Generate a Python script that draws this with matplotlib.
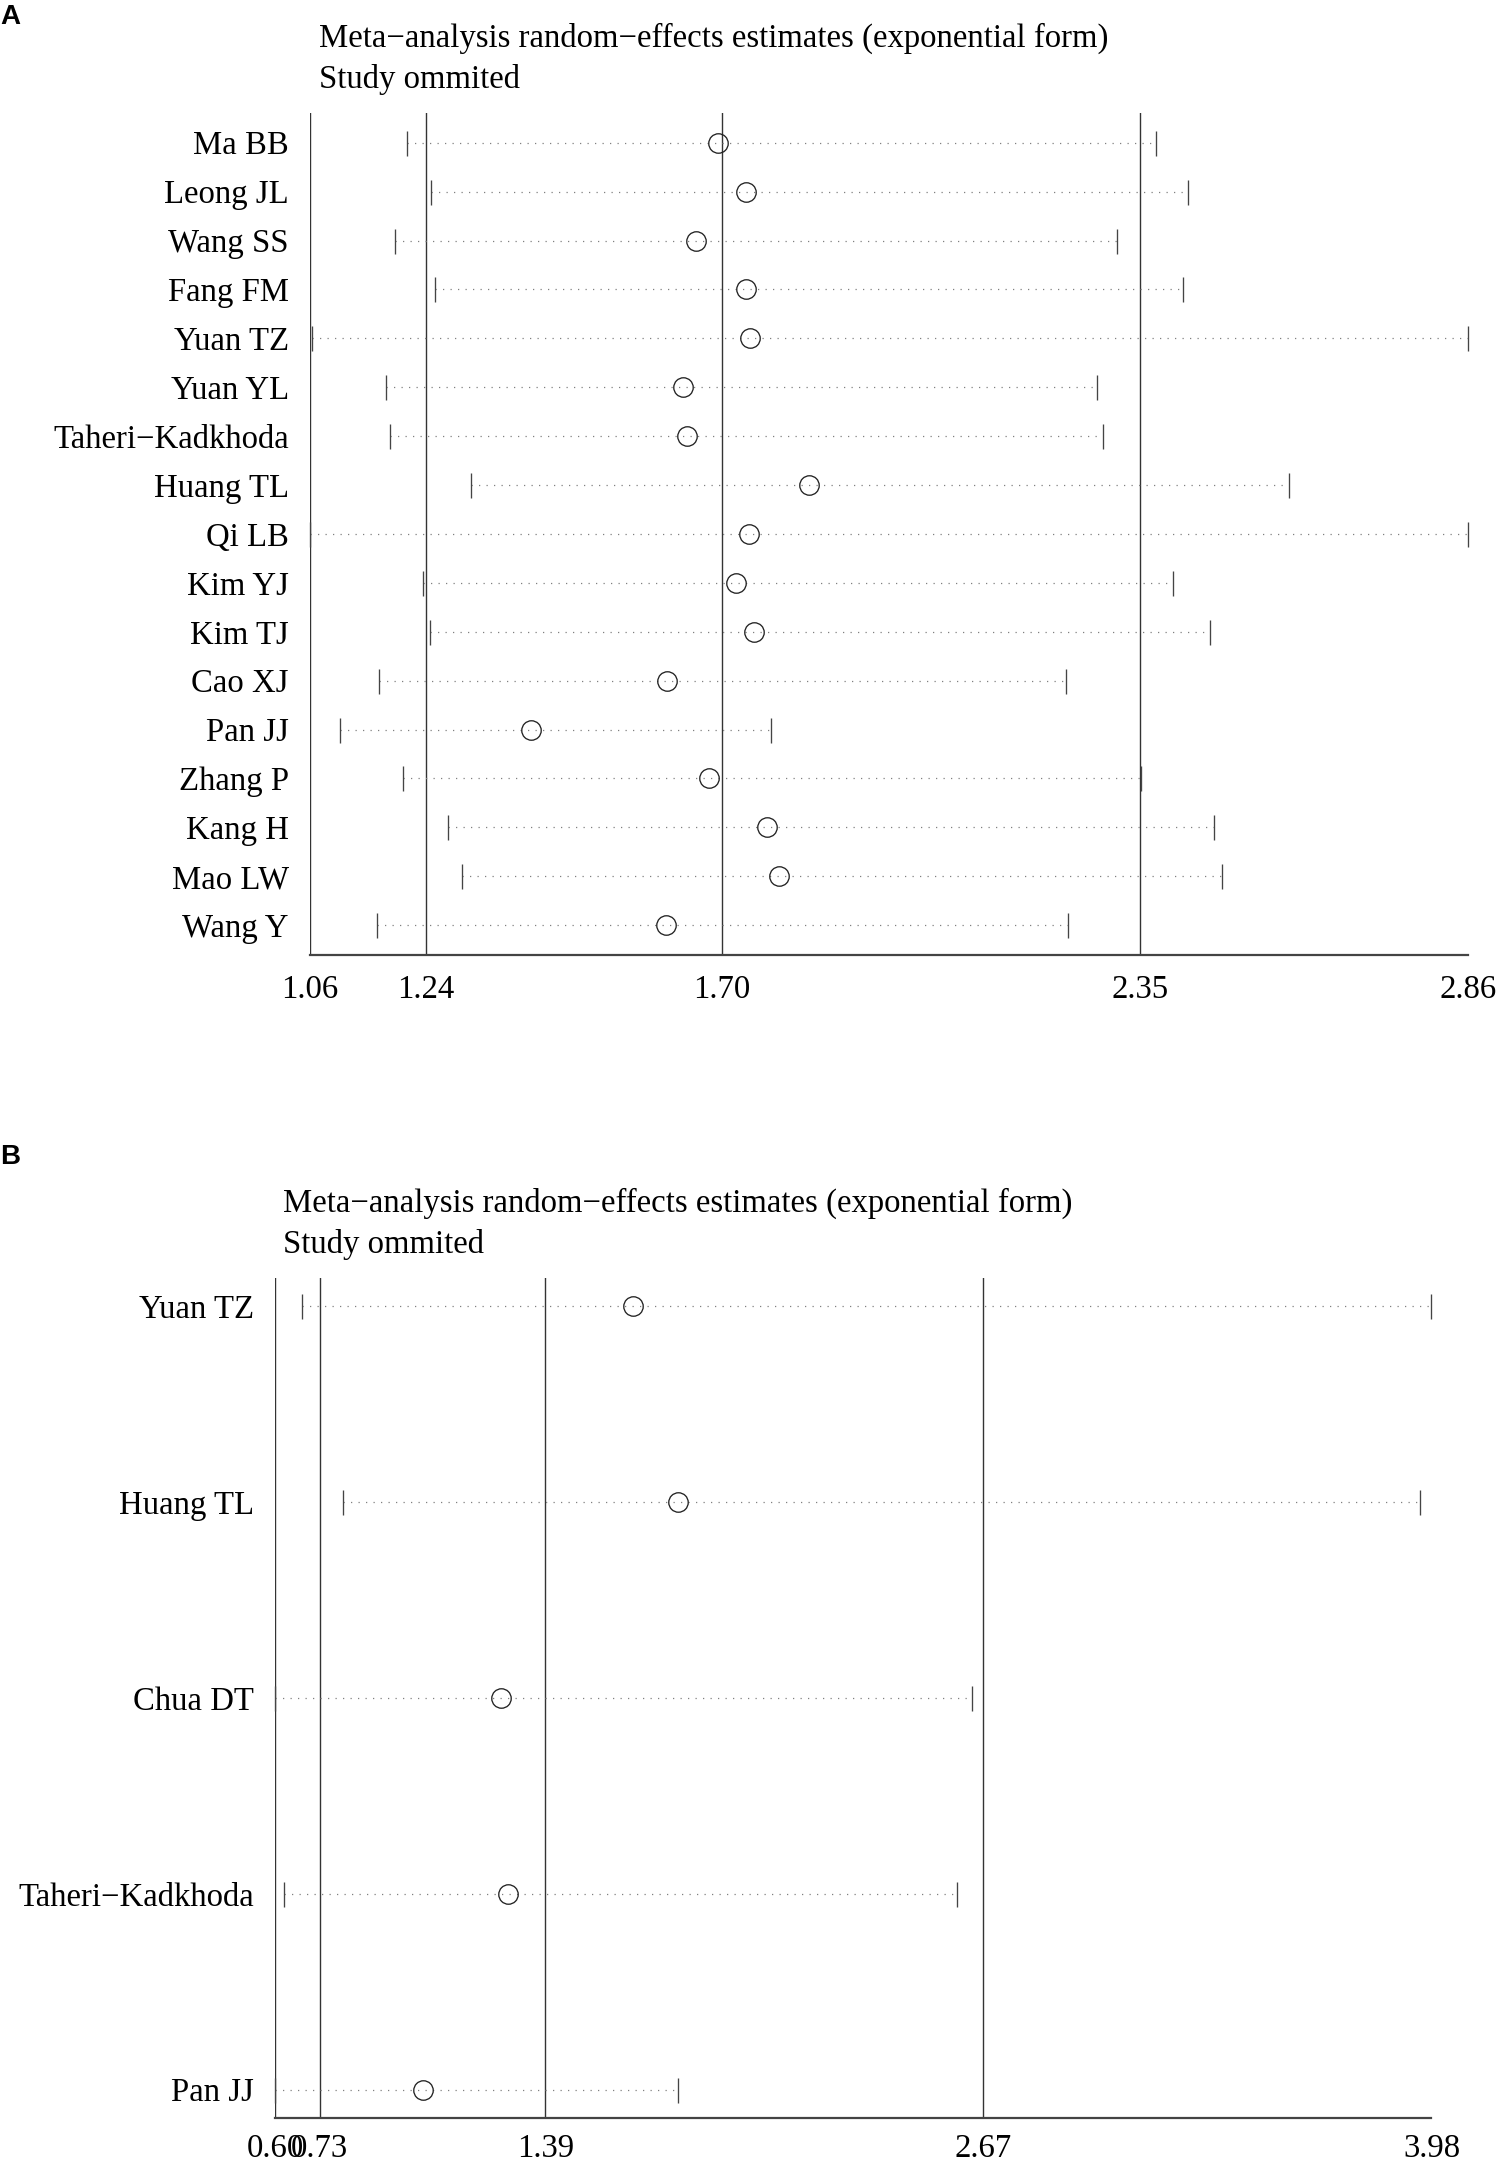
# Sensitivity analysis (study omitted) - two panels
import numpy as np
import matplotlib
matplotlib.use('Agg')
import matplotlib.pyplot as plt

plt.rcParams['font.family'] = ['Liberation Serif', 'DejaVu Serif']

# Panel A data
studies_a = ['Ma BB', 'Leong JL', 'Wang SS', 'Fang FM', 'Yuan TZ', 'Yuan YL',
             'Taheri\u2212Kadkhoda', 'Huang TL', 'Qi LB', 'Kim YJ', 'Kim TJ',
             'Cao XJ', 'Pan JJ', 'Zhang P', 'Kang H', 'Mao LW', 'Wang Y']
est_a = [1.694, 1.738, 1.660, 1.738, 1.744, 1.640, 1.647, 1.836, 1.742,
         1.722, 1.750, 1.615, 1.404, 1.681, 1.771, 1.790, 1.614]
low_a = [1.211, 1.249, 1.193, 1.254, 1.064, 1.179, 1.185, 1.310, 1.060,
         1.236, 1.247, 1.168, 1.107, 1.205, 1.275, 1.297, 1.165]
up_a = [2.375, 2.425, 2.314, 2.418, 2.860, 2.283, 2.293, 2.582, 2.860,
        2.402, 2.460, 2.235, 1.777, 2.352, 2.465, 2.478, 2.238]
ref_a = [1.24, 1.70, 2.35]          # pooled CI low, estimate, CI high
range_a = [1.06, 2.86]

# Panel B data
studies_b = ['Yuan TZ', 'Huang TL', 'Chua DT', 'Taheri\u2212Kadkhoda', 'Pan JJ']
est_b = [1.646, 1.777, 1.260, 1.280, 1.033]
low_b = [0.678, 0.797, 0.600, 0.627, 0.600]
up_b = [3.980, 3.946, 2.637, 2.593, 1.777]
ref_b = [0.73, 1.39, 2.67]
range_b = [0.60, 3.98]

title_lines = ['Meta\u2212analysis random\u2212effects estimates (exponential form)',
               'Study ommited']

FS = 23.6

fig = plt.figure(figsize=(15.03, 21.67), dpi=100)
ax_a = fig.add_axes([0.2061, 0.5593, 0.7705, 0.3886])
ax_b = fig.add_axes([0.1831, 0.0226, 0.7693, 0.3877])


def draw_panel(ax, studies, est, low, up, ref, xr, ypad, label_pad):
    n = len(studies)
    y = np.arange(n)
    for v in [xr[0]] + ref:
        ax.axvline(v, color='#333333', lw=1.0, zorder=1)
    for yi, lo, hi in zip(y, low, up):
        ax.plot([lo, hi], [yi, yi], color='#808080', lw=0.9,
                linestyle=(0, (1, 5)), zorder=2, clip_on=False)
    ax.plot(low, y, linestyle='none', marker='|', markersize=18,
            markeredgewidth=0.95, color='#444444', zorder=3, clip_on=False)
    ax.plot(up, y, linestyle='none', marker='|', markersize=18,
            markeredgewidth=0.95, color='#444444', zorder=3, clip_on=False)
    ax.plot(est, y, linestyle='none', marker='o', markersize=14,
            markerfacecolor='none', markeredgecolor='#222222',
            markeredgewidth=0.95, zorder=4, clip_on=False)

    ax.set_xlim(xr)
    ax.set_ylim(n - 1 + ypad, -ypad)
    for s in ['top', 'right', 'left']:
        ax.spines[s].set_visible(False)
    ax.spines['bottom'].set_linewidth(1.6)
    ax.spines['bottom'].set_color('#444444')

    ax.set_yticks(y)
    ax.set_yticklabels(studies, fontsize=FS)
    ax.tick_params(axis='y', length=0, pad=15)

    ticks = [xr[0]] + ref + [xr[1]]
    ax.set_xticks(ticks)
    ax.set_xticklabels(['%.2f' % t for t in ticks], fontsize=FS)
    ax.tick_params(axis='x', which='major', length=0, pad=label_pad)
    ax.set_xticks(xr, minor=True)
    ax.tick_params(axis='x', which='minor', length=8.6, width=1.0,
                   color='#333333')


draw_panel(ax_a, studies_a, est_a, low_a, up_a, ref_a, range_a, 0.61, 14)
draw_panel(ax_b, studies_b, est_b, low_b, up_b, ref_b, range_b, 0.145, 11)

# titles
fig.text(0.2122, 0.9783, title_lines[0], fontsize=FS, va='baseline')
fig.text(0.2122, 0.9594, title_lines[1], fontsize=FS, va='baseline')
fig.text(0.1883, 0.4407, title_lines[0], fontsize=FS, va='baseline')
fig.text(0.1883, 0.4218, title_lines[1], fontsize=FS, va='baseline')

# panel letters
fig.text(0.0, 0.9889, 'A', fontsize=20, fontweight='bold',
         family='Liberation Sans', va='baseline')
fig.text(0.0, 0.4628, 'B', fontsize=20, fontweight='bold',
         family='Liberation Sans', va='baseline')

fig.savefig('out.png', dpi=100)
